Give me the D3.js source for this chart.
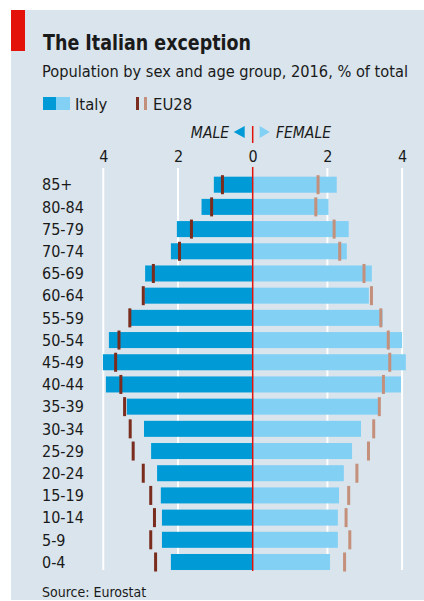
<!DOCTYPE html>
<html>
<head>
<meta charset="utf-8">
<script src="https://cdn.jsdelivr.net/npm/d3@7"></script>
<style>
  html,body{margin:0;padding:0;background:#fff;}
  svg{display:block;}
  text{font-family:"DejaVu Sans Condensed","DejaVu Sans",sans-serif;fill:#1a1a1a;}
</style>
</head>
<body>
<svg id="chart" width="424" height="601"></svg>
<script>
/* ===== Data ===== */
const ages = ['85+','80-84','75-79','70-74','65-69','60-64','55-59','50-54','45-49','40-44','35-39','30-34','25-29','20-24','15-19','10-14','5-9','0-4'];
const italyMale   = [1.04,1.37,2.03,2.19,2.88,2.90,3.26,3.85,4.01,3.93,3.37,2.91,2.72,2.56,2.46,2.43,2.43,2.19];
const italyFemale = [2.25,2.03,2.57,2.52,3.19,3.11,3.48,4.00,4.10,3.97,3.36,2.90,2.66,2.44,2.31,2.28,2.28,2.07];
const euMale      = [0.81,1.10,1.64,1.96,2.66,2.93,3.29,3.58,3.67,3.53,3.43,3.28,3.20,2.93,2.73,2.63,2.73,2.60];
const euFemale    = [1.75,1.69,2.18,2.33,2.98,3.18,3.43,3.63,3.67,3.50,3.39,3.24,3.10,2.79,2.57,2.50,2.60,2.46];
const tickVals = [-4,-2,0,2,4];

/* ===== Styles ===== */
const C = {bg:'#d9e4ec', male:'#009bd6', female:'#83d0f5', euM:'#7a2d1e', euF:'#c4907b', red:'#e3120b', blue:'#1a8fcc'};

const svg = d3.select('#chart');
svg.append('rect').attr('x',11).attr('y',10).attr('width',413).attr('height',590).attr('fill',C.bg);
svg.append('rect').attr('x',11).attr('y',10).attr('width',14).attr('height',41).attr('fill',C.red);

svg.append('text').attr('x',43).attr('y',50).attr('font-size',22).attr('font-weight','bold').attr('fill','#111')
  .attr('textLength',208).attr('lengthAdjust','spacingAndGlyphs')
  .text('The Italian exception');
svg.append('text').attr('x',42).attr('y',77).attr('font-size',16)
  .attr('textLength',366).attr('lengthAdjust','spacingAndGlyphs')
  .text('Population by sex and age group, 2016, % of total');

// legend
const lg = svg.append('g');
lg.append('rect').attr('x',43).attr('y',97).attr('width',13).attr('height',13).attr('fill',C.male);
lg.append('rect').attr('x',56).attr('y',97).attr('width',14).attr('height',13).attr('fill',C.female);
lg.append('text').attr('x',75).attr('y',110).attr('font-size',16.5).text('Italy');
lg.append('rect').attr('x',136).attr('y',97).attr('width',3).attr('height',13).attr('fill',C.euM);
lg.append('rect').attr('x',144).attr('y',97).attr('width',3).attr('height',13).attr('fill',C.euF);
lg.append('text').attr('x',153).attr('y',110).attr('font-size',16.5).text('EU28');

/* ===== Scales ===== */
const x = d3.scaleLinear().domain([-4,4]).range([103.3,402.1]);
const y = d3.scaleBand().domain(ages).range([173.6,573.1]).paddingInner(0.278).paddingOuter(0.139);
const x0 = x(0);

// MALE / FEMALE header
svg.append('text').attr('x',229).attr('y',138).attr('text-anchor','end').attr('font-size',15.5)
  .attr('font-style','italic').attr('fill',C.blue).text('MALE');
svg.append('path').attr('d',`M${x0-8},126 L${x0-19},132 L${x0-8},138 Z`).attr('fill',C.male);
svg.append('path').attr('d',`M${x0+7},126 L${x0+17},132 L${x0+7},138 Z`).attr('fill',C.female);
svg.append('text').attr('x',276).attr('y',138).attr('font-size',15.5)
  .attr('font-style','italic').attr('fill',C.blue).text('FEMALE');
svg.append('line').attr('x1',x0).attr('x2',x0).attr('y1',126).attr('y2',143)
  .attr('stroke',C.red).attr('stroke-width',1.5);

// ticks
const ax = svg.append('g').attr('transform','translate(0,162)')
  .call(d3.axisTop(x).tickValues(tickVals).tickSize(0).tickPadding(0).tickFormat(d=>Math.abs(d)));
ax.select('.domain').remove();
ax.selectAll('text').attr('font-size',16).attr('fill','#111')
  .attr('font-family','"DejaVu Sans Condensed","DejaVu Sans",sans-serif');

// gridlines
svg.append('g').selectAll('line').data(tickVals.filter(d=>d!==0)).enter().append('line')
  .attr('x1',d=>x(d)).attr('x2',d=>x(d)).attr('y1',168).attr('y2',570)
  .attr('stroke','#fff').attr('stroke-width',2);

/* ===== Bars ===== */
const bars = svg.append('g');
bars.selectAll('.m').data(ages).enter().append('rect').attr('class','m')
  .attr('x',(d,i)=>x(-italyMale[i])).attr('y',d=>y(d))
  .attr('width',(d,i)=>x0-x(-italyMale[i])).attr('height',y.bandwidth()).attr('fill',C.male);
bars.selectAll('.f').data(ages).enter().append('rect').attr('class','f')
  .attr('x',x0).attr('y',d=>y(d))
  .attr('width',(d,i)=>x(italyFemale[i])-x0).attr('height',y.bandwidth()).attr('fill',C.female);

// zero line
svg.append('line').attr('x1',x0).attr('x2',x0).attr('y1',167).attr('y2',571)
  .attr('stroke',C.red).attr('stroke-width',1.5);

// EU28 markers
const mk = svg.append('g');
mk.selectAll('.em').data(ages).enter().append('rect').attr('class','em')
  .attr('x',(d,i)=>x(-euMale[i])-1.5).attr('y',d=>y(d)-1.5)
  .attr('width',3).attr('height',y.bandwidth()+3).attr('fill',C.euM);
mk.selectAll('.ef').data(ages).enter().append('rect').attr('class','ef')
  .attr('x',(d,i)=>x(euFemale[i])-1.5).attr('y',d=>y(d)-1.5)
  .attr('width',3).attr('height',y.bandwidth()+3).attr('fill',C.euF);

// category labels
svg.append('g').selectAll('text').data(ages).enter().append('text')
  .attr('x',42).attr('y',d=>y(d)+y.bandwidth()/2).attr('dy','0.36em')
  .attr('font-size',16).text(d=>d);

svg.append('text').attr('x',42).attr('y',597).attr('font-size',14).text('Source: Eurostat');
</script>
</body>
</html>
